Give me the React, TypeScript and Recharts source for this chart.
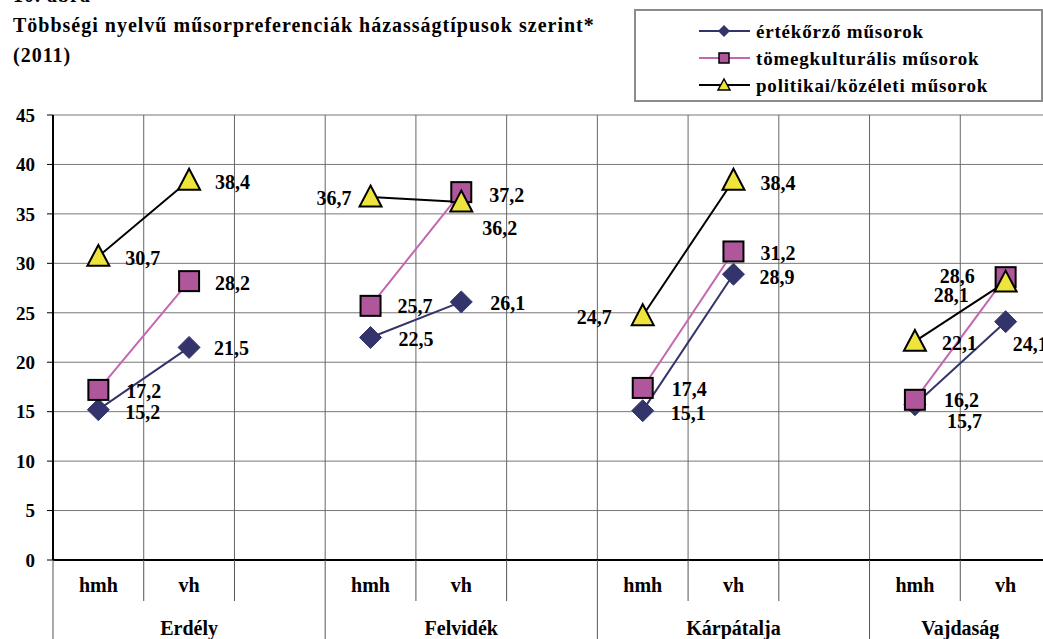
import React from 'react';
import { LineChart, Line, XAxis, YAxis, CartesianGrid, ReferenceLine } from 'recharts';

const categories = ['hmh', 'vh', '', 'hmh', 'vh', '', 'hmh', 'vh', '', 'hmh', 'vh'];
const groups = ['Erdély', 'Felvidék', 'Kárpátalja', 'Vajdaság'];
const groupStarts = [0, 3, 6, 9];
const groupEnds = [3, 6, 9, 11];

const ertekorzo = [15.2, 21.5, null, 22.5, 26.1, null, 15.1, 28.9, null, 15.7, 24.1];
const tomeg = [17.2, 28.2, null, 25.7, 37.2, null, 17.4, 31.2, null, 16.2, 28.6];
const politikai = [30.7, 38.4, null, 36.7, 36.2, null, 24.7, 38.4, null, 22.1, 28.1];

const seriesNames = ['értékőrző műsorok', 'tömegkulturális műsorok', 'politikai/közéleti műsorok'];
const yTicks = [0, 5, 10, 15, 20, 25, 30, 35, 40, 45];

const titleLines = ['Többségi nyelvű műsorpreferenciák házasságtípusok szerint*', '(2011)'];
const figureLabel = '10. ábra';

// label offsets [dx, dy] relative to the point (negative dx => right-aligned)
const offsA: (number[] | null)[] = [[27, 2], [25, 1], null, [28, 1], [29, 1], null, [28, 2], [26, 3], null, [32, 16], [7, 22]];
const offsB: (number[] | null)[] = [[28, 1], [26, 2], null, [27, 0], [28, 3], null, [29, 1], [27, 2], null, [29, 0], [-31, -1]];
const offsC: (number[] | null)[] = [[27, 2], [26, 2], null, [-19, 1], [21, 26], null, [-31, 1], [27, 3], null, [27, 2], [-37, 13]];

const FONT = "'Liberation Serif', serif";
const NAVY = '#34346c';
const PINK_LINE = '#c466b0';
const PINK_FILL = '#b0579c';
const YELLOW = '#eee43c';

const data = categories.map((c, i) => ({
  x: i + 0.5,
  a: ertekorzo[i],
  b: tomeg[i],
  c: politikai[i],
}));

const xTicks: number[] = [];
for (let i = 0; i <= categories.length; i++) {
  xTicks.push(i);
  if (i < categories.length) xTicks.push(i + 0.5);
}

const fmt = (v: number) => v.toFixed(1).replace('.', ',');

const makeLabel = (cx: number, cy: number, v: number, off: number[] | null, key: string) => {
  if (!off) return null;
  const [dx, dy] = off;
  return (
    <text
      key={key}
      x={cx + dx}
      y={cy + dy}
      textAnchor={dx < 0 ? 'end' : 'start'}
      dominantBaseline="central"
      fontFamily={FONT}
      fontWeight="bold"
      fontSize={20}
      fill="#000"
    >
      {fmt(v)}
    </text>
  );
};

const markerShape = (kind: string, cx: number, cy: number, r: number) => {
  if (kind === 'diamond') {
    return <path d={`M${cx},${cy - r}L${cx + r},${cy}L${cx},${cy + r}L${cx - r},${cy}Z`} fill={NAVY} stroke={NAVY} strokeWidth={1} />;
  }
  if (kind === 'square') {
    return <rect x={cx - r} y={cy - r} width={2 * r} height={2 * r} fill={PINK_FILL} stroke="#000" strokeWidth={2} />;
  }
  const h = r * 1.9;
  return (
    <path
      d={`M${cx},${cy - h * 0.55}L${cx + r},${cy + h * 0.45}L${cx - r},${cy + h * 0.45}Z`}
      fill={YELLOW}
      stroke="#000"
      strokeWidth={2}
      strokeLinejoin="miter"
    />
  );
};

const makeDot = (kind: string, values: (number | null)[], offs: (number[] | null)[], r: number) => (props: any) => {
  const { cx, cy, index } = props;
  const v = values[index];
  if (cx == null || cy == null || v == null || isNaN(cx) || isNaN(cy)) return <g key={`d-${kind}-${index}`} />;
  return (
    <g key={`d-${kind}-${index}`}>
      {markerShape(kind, cx, cy, r)}
      {makeLabel(cx, cy, v, offs[index], 'lbl')}
    </g>
  );
};

const XTick = (props: any) => {
  const { x, y, payload } = props;
  const v = payload.value as number;
  const els: React.ReactNode[] = [];
  const isInt = Math.abs(v - Math.round(v)) < 1e-6;
  if (isInt) {
    const edge = groupStarts.includes(v) || groupEnds.includes(v);
    els.push(<line key="l" x1={x} x2={x} y1={y} y2={y + (edge ? 80 : 41)} stroke="#555" strokeWidth={1} />);
  } else {
    const label = categories[Math.floor(v)];
    if (label) {
      els.push(
        <text key="t" x={x} y={y + 32} textAnchor="middle" fontFamily={FONT} fontWeight="bold" fontSize={20} fill="#000">
          {label}
        </text>
      );
    }
  }
  groups.forEach((g, gi) => {
    if (Math.abs((groupStarts[gi] + groupEnds[gi]) / 2 - v) < 1e-6) {
      els.push(
        <text key={'g' + gi} x={x} y={y + 75} textAnchor="middle" fontFamily={FONT} fontWeight="bold" fontSize={20} fill="#000">
          {g}
        </text>
      );
    }
  });
  return <g>{els}</g>;
};

const legendKinds = ['diamond', 'square', 'triangle'];
const legendColors = [NAVY, PINK_LINE, '#000'];

export default function App() {
  return (
    <div style={{ position: 'absolute', left: 0, top: 0, width: 1043, height: 639, overflow: 'hidden', background: '#fff' }}>
      <div style={{ position: 'absolute', left: 0, top: 0 }}>
        <LineChart width={1060} height={639} data={data} margin={{ top: 115, right: 9, bottom: 0, left: 0 }}>
          <CartesianGrid vertical={false} stroke="#777" strokeWidth={1} />
          {categories.slice(1).map((_, i) => (
            <ReferenceLine key={i} x={i + 1} stroke="#666" strokeWidth={1} />
          ))}
          <XAxis
            dataKey="x"
            type="number"
            domain={[0, categories.length]}
            ticks={xTicks}
            interval={0}
            tickSize={0}
            tickMargin={0}
            height={79}
            axisLine={{ stroke: '#000', strokeWidth: 2 }}
            tick={<XTick />}
          />
          <YAxis
            domain={[0, 45]}
            ticks={yTicks}
            width={53}
            tickSize={6}
            tickMargin={12}
            axisLine={{ stroke: '#000', strokeWidth: 2 }}
            tickLine={{ stroke: '#000' }}
            tick={{ fill: '#000', fontSize: 19, fontWeight: 'bold', fontFamily: FONT }}
          />
          <Line
            dataKey="a"
            type="linear"
            stroke={NAVY}
            strokeWidth={2}
            isAnimationActive={false}
            connectNulls={false}
            dot={makeDot('diamond', ertekorzo, offsA, 11)}
            activeDot={false}
          />
          <Line
            dataKey="b"
            type="linear"
            stroke={PINK_LINE}
            strokeWidth={2}
            isAnimationActive={false}
            connectNulls={false}
            dot={makeDot('square', tomeg, offsB, 10)}
            activeDot={false}
          />
          <Line
            dataKey="c"
            type="linear"
            stroke="#000"
            strokeWidth={2}
            isAnimationActive={false}
            connectNulls={false}
            dot={makeDot('triangle', politikai, offsC, 11)}
            activeDot={false}
          />
        </LineChart>
      </div>
      <div
        style={{
          position: 'absolute',
          left: 13,
          top: -20,
          fontFamily: FONT,
          fontWeight: 'bold',
          fontSize: 20,
          lineHeight: '30px',
          letterSpacing: '1px',
          color: '#000',
          whiteSpace: 'nowrap',
        }}
      >
        <div>{figureLabel}</div>
        {titleLines.map((t, i) => (
          <div key={i}>{t}</div>
        ))}
      </div>
      <svg style={{ position: 'absolute', left: 634, top: 9 }} width={409} height={93}>
        <rect x={1} y={1} width={407} height={91} fill="#fff" stroke="#8c8c8c" strokeWidth={2} />
        {seriesNames.map((n, i) => {
          const cy = 22 + i * 27;
          return (
            <g key={i}>
              <line x1={65} x2={116} y1={cy} y2={cy} stroke={legendColors[i]} strokeWidth={2} />
              {legendKinds[i] === 'diamond' && (
                <path d={`M90,${cy - 6}L96,${cy}L90,${cy + 6}L84,${cy}Z`} fill={NAVY} />
              )}
              {legendKinds[i] === 'square' && (
                <rect x={85} y={cy - 5} width={10} height={10} fill={PINK_FILL} stroke="#000" strokeWidth={1.5} />
              )}
              {legendKinds[i] === 'triangle' && (
                <path d={`M90,${cy - 6}L96,${cy + 5}L84,${cy + 5}Z`} fill={YELLOW} stroke="#000" strokeWidth={1.5} />
              )}
              <text
                x={122}
                y={cy}
                dominantBaseline="central"
                fontFamily={FONT}
                fontWeight="bold"
                fontSize={19}
                letterSpacing={0.8}
                fill="#000"
              >
                {n}
              </text>
            </g>
          );
        })}
      </svg>
    </div>
  );
}
